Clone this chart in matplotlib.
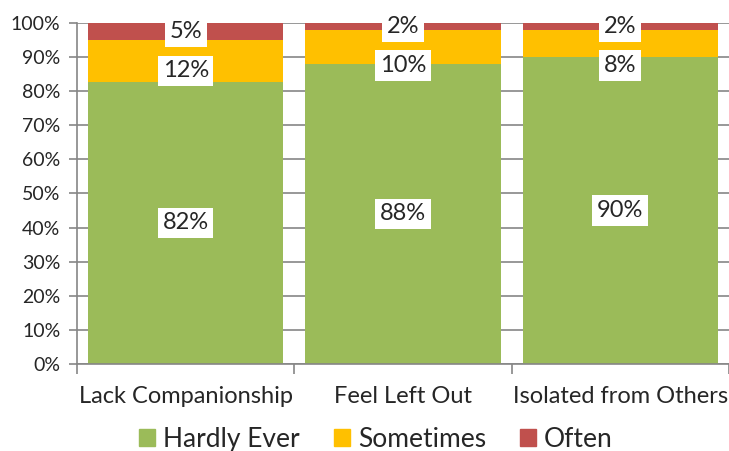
import matplotlib.pyplot as plt
from matplotlib.patches import Patch
import numpy as np

plt.rcParams['font.family'] = ['Lato', 'DejaVu Sans']

categories = ['Lack Companionship', 'Feel Left Out', 'Isolated from Others']
series_names = ['Hardly Ever', 'Sometimes', 'Often']
hardly_ever = [82, 88, 90]
sometimes = [12, 10, 8]
often = [5, 2, 2]

COLORS = ['#9BBB59', '#FFC000', '#C0504D']
GRID = '#868686'
TXT = '#262626'

data = np.array([hardly_ever, sometimes, often], dtype=float)
shares = data / data.sum(axis=0) * 100

fig = plt.figure(figsize=(7.29, 4.51), dpi=100)
ax = fig.add_axes([0.1056, 0.193, 0.8944, 0.756])

x = np.arange(len(categories))
bottom = np.zeros(len(categories))
for i, name in enumerate(series_names):
    ax.bar(x, shares[i], 0.9, bottom=bottom, color=COLORS[i], zorder=2)
    bottom += shares[i]

# data labels, Excel-style: the middle one gets pushed down if it would hit the top one
for j in range(len(categories)):
    base = 0
    ys = []
    for i in range(len(series_names)):
        ys.append(base + shares[i, j] / 2)
        base += shares[i, j]
    ys[1] = min(ys[1], ys[2] - 11.5)
    for i in range(len(series_names)):
        ax.text(x[j], ys[i], '%d%%' % data[i, j], ha='center', va='center',
                fontsize=17, color=TXT, zorder=4,
                bbox=dict(boxstyle='square,pad=0.2', fc='white', ec='none'))

ax.set_ylim(0, 100)
ax.set_xlim(-0.5, len(categories) - 0.5)
ax.set_yticks(np.arange(0, 101, 10))
ax.set_yticklabels(['%d%%' % v for v in range(0, 101, 10)], fontsize=14, color=TXT)
ax.yaxis.grid(True, color=GRID, linewidth=1.2, zorder=0)
ax.set_axisbelow(True)

ax.set_xticks(x)
ax.set_xticklabels(categories, fontsize=17, color=TXT)
ax.set_xticks(np.arange(-0.5, len(categories)), minor=True)
ax.tick_params(axis='x', which='major', length=0, pad=16)
ax.tick_params(axis='x', which='minor', length=7, color=GRID, width=1.2)
ax.tick_params(axis='y', length=6, color=GRID, width=1.2, pad=6)

for s in ['top', 'right']:
    ax.spines[s].set_visible(False)
for s in ['left', 'bottom']:
    ax.spines[s].set_color(GRID)
    ax.spines[s].set_linewidth(1.2)

handles = [Patch(color=c, label=n) for c, n in zip(COLORS, series_names)]
fig.legend(handles=handles, ncol=3, loc='lower center', bbox_to_anchor=(0.516, -0.054),
           frameon=False, fontsize=19, handlelength=0.6, handleheight=0.6,
           handletextpad=0.3, columnspacing=1.3, labelcolor=TXT)

fig.savefig('out.png', dpi=100)
